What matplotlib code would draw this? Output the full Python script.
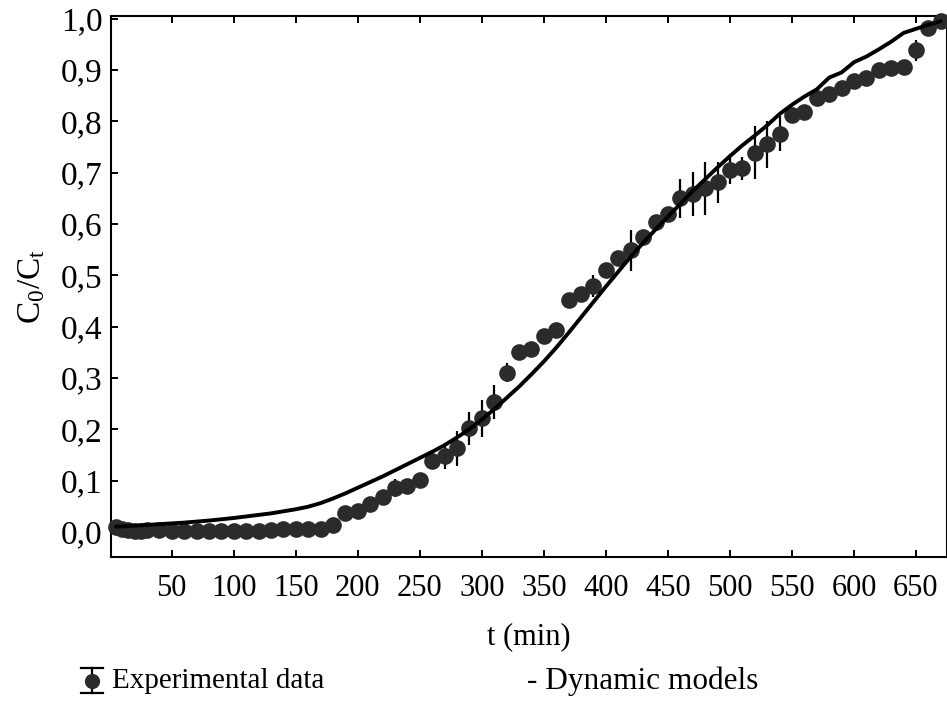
import matplotlib
matplotlib.use("Agg")
import matplotlib.pyplot as plt
from matplotlib.lines import Line2D
from matplotlib.ticker import FuncFormatter

plt.rcParams['font.family'] = ['Liberation Serif', 'DejaVu Serif']
plt.rcParams['mathtext.fontset'] = 'custom'
plt.rcParams['mathtext.rm'] = 'Liberation Serif'
plt.rcParams['mathtext.it'] = 'Liberation Serif:italic'

# Experimental data: time (min), C0/Ct and error
t_exp = [5, 10, 15, 20, 25, 30, 40, 50, 60, 70, 80, 90, 100, 110, 120, 130,
         140, 150, 160, 170, 180, 190, 200, 210, 220, 230, 240, 250, 260, 270,
         280, 290, 300, 310, 320, 330, 340, 350, 360, 370, 380, 390, 400, 410,
         420, 430, 440, 450, 460, 470, 480, 490, 500, 510, 520, 530, 540, 550,
         560, 570, 580, 590, 600, 610, 620, 630, 640, 650, 660, 670]
c_exp = [0.009, 0.006, 0.003, 0.002, 0.002, 0.003, 0.003, 0.002, 0.002, 0.002,
         0.002, 0.002, 0.002, 0.002, 0.002, 0.003, 0.005, 0.005, 0.005, 0.006,
         0.014, 0.036, 0.040, 0.054, 0.068, 0.085, 0.089, 0.101, 0.138, 0.148,
         0.163, 0.202, 0.221, 0.253, 0.310, 0.351, 0.357, 0.381, 0.393, 0.452,
         0.463, 0.479, 0.510, 0.533, 0.549, 0.575, 0.604, 0.619, 0.650, 0.658,
         0.669, 0.681, 0.704, 0.708, 0.739, 0.755, 0.776, 0.812, 0.818, 0.845,
         0.853, 0.864, 0.879, 0.884, 0.900, 0.903, 0.906, 0.938, 0.981, 0.996]
err_exp = [0.004, 0.003, 0.002, 0.002, 0.002, 0.002, 0.002, 0.002, 0.002, 0.002,
           0.002, 0.002, 0.002, 0.002, 0.002, 0.002, 0.002, 0.002, 0.002, 0.002,
           0.004, 0.006, 0.005, 0.006, 0.010, 0.018, 0.008, 0.008, 0.010, 0.025,
           0.034, 0.032, 0.036, 0.034, 0.018, 0.008, 0.012, 0.006, 0.006, 0.006,
           0.006, 0.022, 0.006, 0.006, 0.040, 0.008, 0.008, 0.008, 0.038, 0.043,
           0.052, 0.040, 0.026, 0.023, 0.052, 0.046, 0.034, 0.010, 0.008, 0.008,
           0.008, 0.008, 0.008, 0.008, 0.008, 0.008, 0.010, 0.020, 0.010, 0.008]

# Dynamic model curve
t_mod = [5, 20, 40, 60, 80, 100, 110, 120, 130, 140, 150, 160, 170, 180, 190,
         200, 210, 220, 230, 240, 250, 260, 270, 280, 290, 300, 310, 320, 330,
         340, 350, 360, 370, 380, 390, 400, 410, 420, 430, 440, 450, 460, 470,
         480, 490, 500, 510, 520, 530, 540, 550, 560, 570, 580, 590, 600, 610,
         620, 630, 640, 650, 660, 670]
c_mod = [0.010, 0.012, 0.015, 0.018, 0.022, 0.027, 0.030, 0.033, 0.036, 0.040,
         0.044, 0.049, 0.056, 0.065, 0.075, 0.086, 0.097, 0.108, 0.120, 0.132,
         0.144, 0.156, 0.169, 0.184, 0.200, 0.219, 0.239, 0.261, 0.283, 0.307,
         0.332, 0.359, 0.388, 0.418, 0.448, 0.478, 0.507, 0.536, 0.563, 0.589,
         0.614, 0.639, 0.664, 0.687, 0.710, 0.732, 0.753, 0.772, 0.792, 0.814,
         0.832, 0.848, 0.862, 0.885, 0.895, 0.915, 0.926, 0.940, 0.955, 0.972,
         0.980, 0.988, 0.995]

x_ticks = [50, 100, 150, 200, 250, 300, 350, 400, 450, 500, 550, 600, 650]
y_ticks = [0.0, 0.1, 0.2, 0.3, 0.4, 0.5, 0.6, 0.7, 0.8, 0.9, 1.0]

W, H = 947, 709
fig = plt.figure(figsize=(W / 100, H / 100), dpi=100)
ax = fig.add_axes([111 / W, 1 - 557 / H, (W - 111) / W, (557 - 16) / H])

marker_col = '#2b2b2b'
ax.errorbar(t_exp, c_exp, yerr=err_exp, fmt='o', color=marker_col,
            ecolor='black', elinewidth=1.6, capsize=0, markersize=12,
            markeredgewidth=0, zorder=3, clip_on=False)
ax.plot(t_mod, c_mod, color='black', linewidth=2.8, zorder=4,
        solid_capstyle='round', solid_joinstyle='round')

ax.set_xlim(1, 675)
ax.set_ylim(-0.049, 1.005)
ax.set_xticks(x_ticks)
ax.set_yticks(y_ticks)
ax.yaxis.set_major_formatter(FuncFormatter(lambda v, p: f"{v:.1f}".replace('.', ',')))
ax.tick_params(axis='both', direction='in', length=5, width=1.4,
               top=True, right=False, colors='black')
ax.tick_params(axis='x', labelsize=22, pad=12)
ax.tick_params(axis='y', labelsize=24, pad=6)
for sp in ax.spines.values():
    sp.set_linewidth(1.5)

ax.set_xlabel('t (min)', fontsize=22, labelpad=14)
ax.set_ylabel(r'C$_\mathrm{0}$/C$_\mathrm{t}$', fontsize=24, labelpad=10)

# Legend row below the axes
ly = 1 - 681 / H
lx = 92 / W
fig.add_artist(Line2D([lx, lx], [1 - 668 / H, 1 - 693 / H], color='black', lw=1.6))
fig.add_artist(Line2D([81 / W, 103 / W], [1 - 668 / H] * 2, color='black', lw=1.6))
fig.add_artist(Line2D([81 / W, 103 / W], [1 - 693 / H] * 2, color='black', lw=1.6))
fig.add_artist(Line2D([lx], [ly], marker='o', markersize=11, color=marker_col,
                      markeredgewidth=0, linestyle='none'))
fig.text(112 / W, ly, 'Experimental data', fontsize=21, va='center', ha='left')
fig.text(527 / W, ly, '- Dynamic models', fontsize=22.5, va='center', ha='left')

fig.savefig('out.png', dpi=100)
